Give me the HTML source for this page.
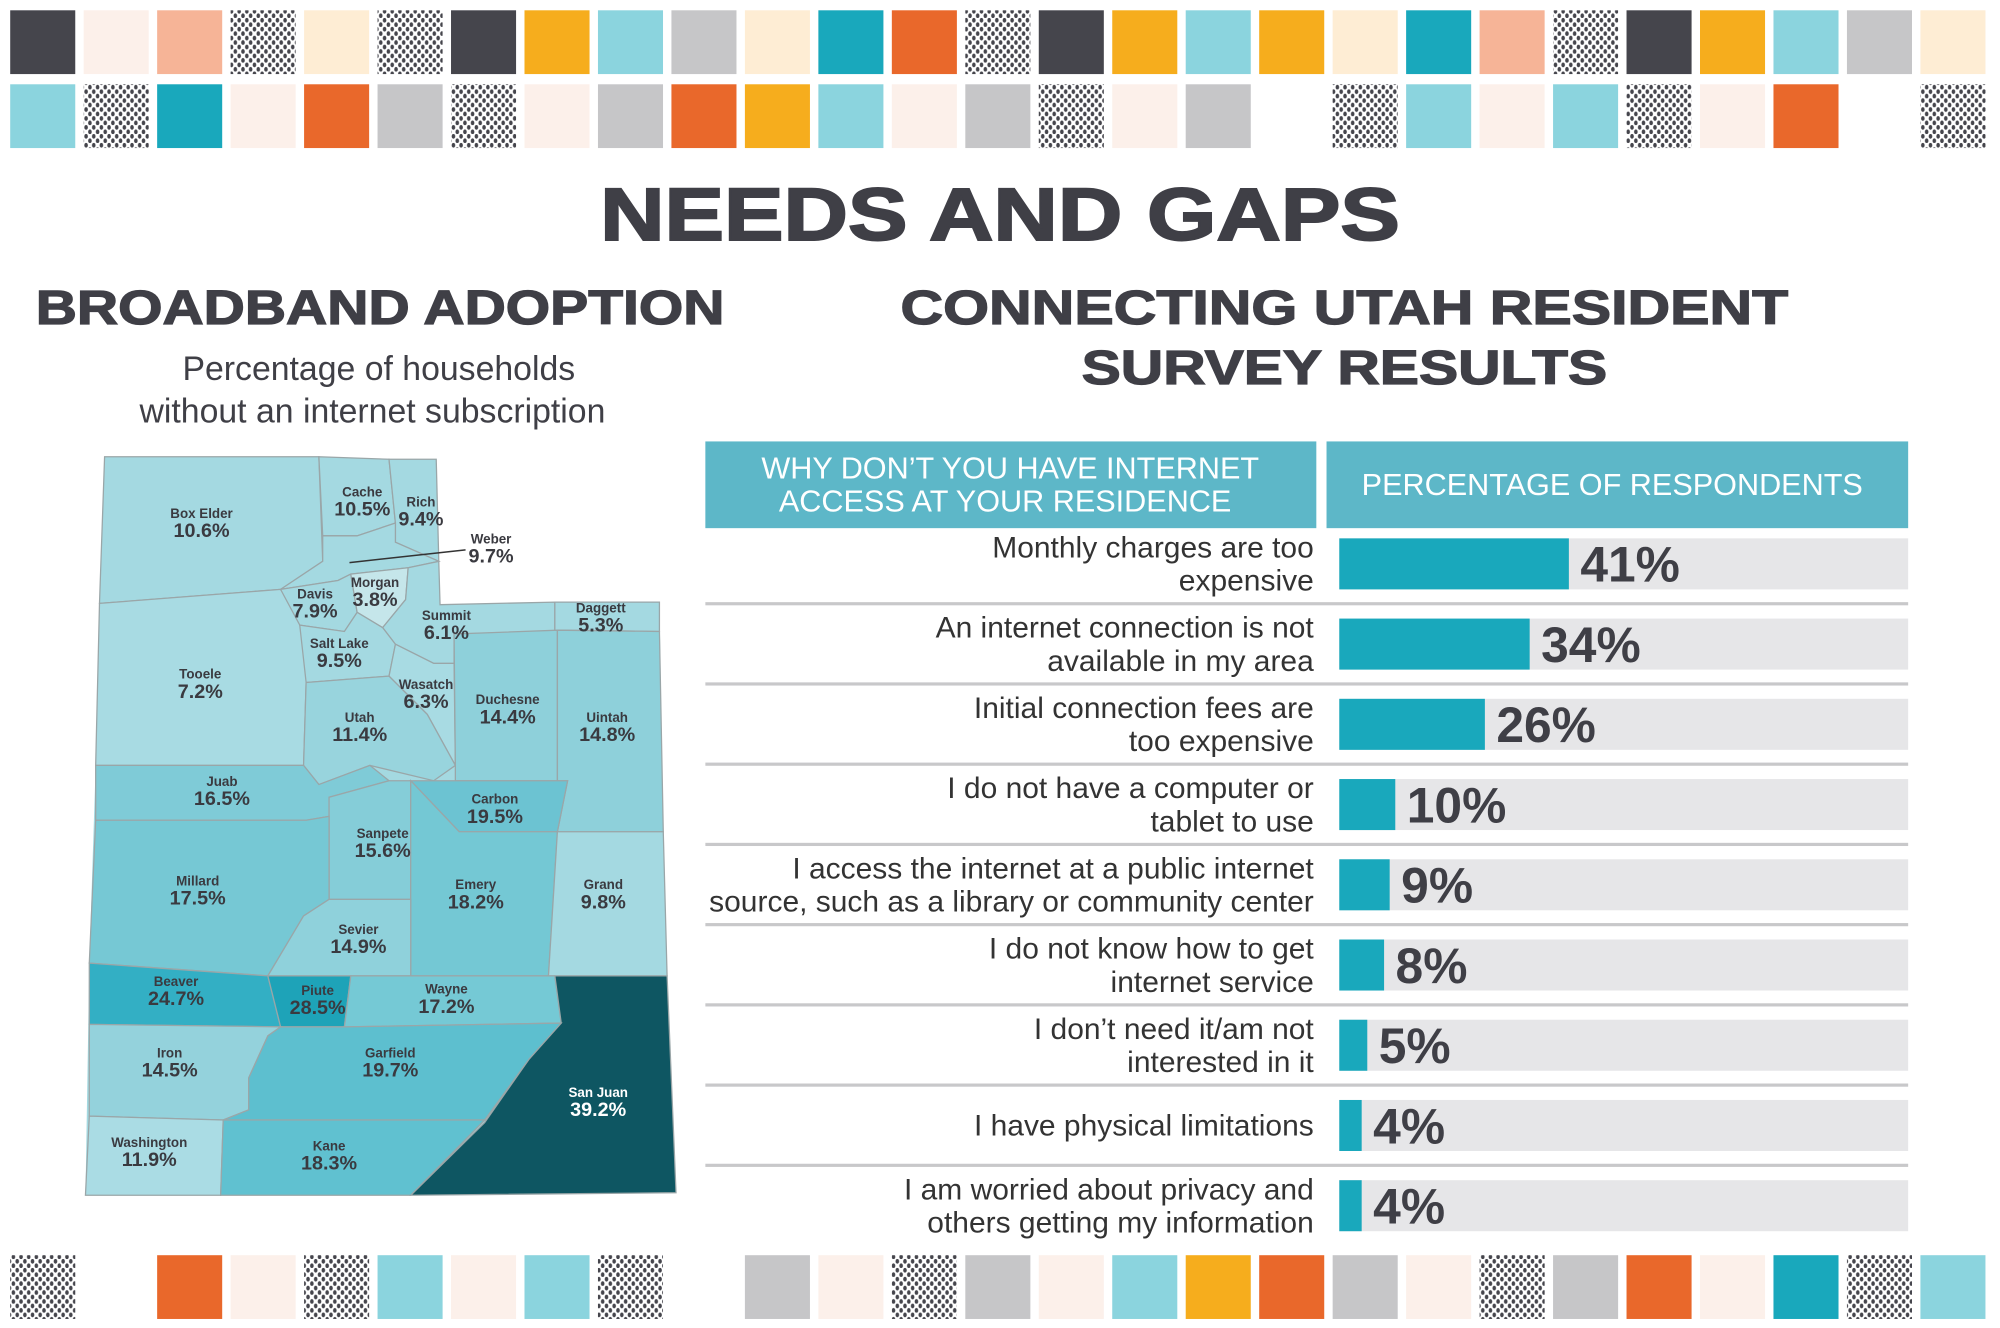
<!DOCTYPE html>
<html><head><meta charset="utf-8"><style>
html,body{margin:0;padding:0;background:#fff;}
svg{display:block;}
text{font-family:"Liberation Sans",sans-serif;}
</style></head><body>
<svg id="root" width="2000" height="1328" viewBox="0 0 1568 1041" xmlns="http://www.w3.org/2000/svg">
<defs>
<pattern id="dots" width="6" height="7" patternUnits="userSpaceOnUse">
<rect width="6" height="7" fill="#fff"/>
<ellipse cx="1.5" cy="1.8" rx="1.4" ry="1.9" fill="#45454c"/>
<ellipse cx="4.5" cy="5.3" rx="1.4" ry="1.9" fill="#45454c"/>
</pattern>
</defs>
<g id="tiles"></g>

<text x="784" y="188" text-anchor="middle" font-size="58" font-weight="900" fill="#3f3f46" textLength="627" lengthAdjust="spacingAndGlyphs" stroke="#3f3f46" stroke-width="1.5">NEEDS AND GAPS</text>
<text x="298" y="254" text-anchor="middle" font-size="38" font-weight="900" fill="#3f3f46" textLength="540" lengthAdjust="spacingAndGlyphs" stroke="#3f3f46" stroke-width="1">BROADBAND ADOPTION</text>
<text x="297" y="298" text-anchor="middle" font-size="26.5" fill="#3f3f46">Percentage of households</text>
<text x="292" y="331" text-anchor="middle" font-size="26.5" fill="#3f3f46">without an internet subscription</text>
<text x="1054" y="254" text-anchor="middle" font-size="38" font-weight="900" fill="#3f3f46" textLength="696" lengthAdjust="spacingAndGlyphs" stroke="#3f3f46" stroke-width="1">CONNECTING UTAH RESIDENT</text>
<text x="1054" y="301" text-anchor="middle" font-size="38" font-weight="900" fill="#3f3f46" textLength="412" lengthAdjust="spacingAndGlyphs" stroke="#3f3f46" stroke-width="1">SURVEY RESULTS</text>

<polygon points="82,358 342,360 345,474 517,472 520,652 523,765 530,935 67,937 70,755 75,600 78,473" fill="#a4d9e1"/>
<g id="map" stroke="#9aa6a8" stroke-width="1"></g>
<line x1="274" y1="441" x2="365" y2="431" stroke="#333" stroke-width="1.2"/>
<g id="maplabels"></g>

<rect x="553" y="346" width="479" height="68" fill="#5db7c8"/>
<text x="792" y="375" text-anchor="middle" font-size="24" fill="#fff">WHY DON’T YOU HAVE INTERNET</text>
<text x="788" y="401" text-anchor="middle" font-size="24" fill="#fff">ACCESS AT YOUR RESIDENCE</text>
<rect x="1040" y="346" width="456" height="68" fill="#5db7c8"/>
<text x="1264" y="388" text-anchor="middle" font-size="24" fill="#fff">PERCENTAGE OF RESPONDENTS</text>
<g id="bars"></g>
</svg>
<script>
const NS="http://www.w3.org/2000/svg";
function mk(tag,attrs,parent){const e=document.createElementNS(NS,tag);for(const k in attrs)e.setAttribute(k,attrs[k]);parent.appendChild(e);return e;}
const C={k:"#45454c",b:"#fcf0ea",s:"#f6b497",d:"url(#dots)",c:"#feedd4",y:"#f6ad1d",l:"#8bd4de",g:"#c6c6c8",t:"#19a8bc",o:"#e9682b",_:null};
const row1="kbsdcdkylgctodkylyctsdkylgc";
const row2="ldtbogdbgoylbgdbg_dlbldbo_d";
const row3="d_obdlbld_gbdgblyogbdgobtdl";
const tiles=document.getElementById('tiles');
[[row1,8],[row2,66],[row3,984]].forEach(([r,y])=>{
  [...r].forEach((ch,i)=>{ if(!C[ch])return;
    const t=mk('rect',{x:8+i*57.6,y:y,width:51,height:50,fill:C[ch]},tiles);
    
    
  });
});

const counties=[
 ["box-elder","#a4d9e1","82,358 250,358 253,440 220,462 78,473"],
 ["cache","#a4d9e1","250,358 305,360 310,410 280,420 253,420"],
 ["rich","#a4d9e1","305,360 342,360 344,440 310,425 310,410"],
 ["weber","#a4d9e1","253,420 280,420 310,410 310,425 344,440 320,445 275,450 265,455 220,462 253,440"],
 ["tooele","#a8dbe3","78,473 220,462 245,500 240,535 238,600 75,600"],
 ["davis","#a4d9e1","220,462 265,455 275,450 280,480 270,495 235,490"],
 ["morgan","#c5e6ea","275,450 320,445 318,470 300,492 280,480"],
 ["summit","#a4d9e1","320,445 344,440 345,474 435,472 435,495 356,497 356,520 340,520 310,505 300,492 318,470"],
 ["daggett","#a4d9e1","435,472 517,472 517,495 437,494 435,495"],
 ["salt-lake","#a4d9e1","235,490 270,495 280,480 300,492 310,505 305,530 240,535"],
 ["wasatch","#a8dbe3","310,505 340,520 356,520 357,600 335,560 305,530"],
 ["utah","#98d4dd","240,535 305,530 335,560 357,600 340,612 290,600 250,615 238,600"],
 ["duchesne","#8ed0da","356,497 437,494 437,612 357,612 357,600"],
 ["uintah","#8ed0da","437,494 517,495 520,652 437,652 445,612 437,612"],
 ["juab","#7fcbd7","75,600 238,600 250,615 290,600 305,612 258,625 258,640 240,643 75,643"],
 ["carbon","#6cc3d2","322,612 445,612 437,652 360,652"],
 ["sanpete","#85cdd8","258,625 305,612 322,612 322,705 258,705"],
 ["millard","#76c8d4","75,643 240,643 258,640 258,705 238,718 210,765 70,755"],
 ["emery","#74c8d4","322,612 360,652 437,652 430,765 322,765"],
 ["grand","#a4d9e1","437,652 520,652 523,765 430,765"],
 ["sevier","#8fd1db","258,705 322,705 322,765 210,765 238,718"],
 ["beaver","#33afc4","70,755 210,765 220,805 70,803"],
 ["piute","#1ea3b8","210,765 275,765 270,805 220,805"],
 ["wayne","#75c9d5","275,765 435,765 440,802 270,805"],
 ["san-juan","#0e5662","435,765 523,765 530,935 322,937 380,880 415,830 440,802"],
 ["iron","#94d2dc","70,803 220,805 210,812 195,845 195,870 175,878 70,875"],
 ["garfield","#5dbfcf","220,805 270,805 440,802 415,830 380,878 175,878 195,870 195,845 210,812"],
 ["washington","#aadce4","70,875 175,878 173,937 67,937"],
 ["kane","#60c1d0","175,878 380,878 322,937 173,937"]
];
const map=document.getElementById('map');
counties.forEach(([n,f,p])=>{const e=mk('polygon',{points:p,fill:f},map);
 
 });

const labels=[["Box Elder","10.6%",158,406],["Cache","10.5%",284,389],["Rich","9.4%",330,397],["Weber","9.7%",385,426],
["Davis","7.9%",247,469],["Morgan","3.8%",294,460],["Summit","6.1%",350,486],["Daggett","5.3%",471,480],
["Salt Lake","9.5%",266,508],["Tooele","7.2%",157,532],["Wasatch","6.3%",334,540],["Duchesne","14.4%",398,552],
["Utah","11.4%",282,566],["Uintah","14.8%",476,566],["Juab","16.5%",174,616],["Carbon","19.5%",388,630],
["Sanpete","15.6%",300,657],["Millard","17.5%",155,694],["Emery","18.2%",373,697],["Grand","9.8%",473,697],
["Sevier","14.9%",281,732],["Beaver","24.7%",138,773],["Piute","28.5%",249,780],["Wayne","17.2%",350,779],
["Iron","14.5%",133,829],["Garfield","19.7%",306,829],["San Juan","39.2%",469,860],["Washington","11.9%",117,899],["Kane","18.3%",258,902]];
const ml=document.getElementById('maplabels');
labels.forEach(([n,v,x,y])=>{
 const col=n==="San Juan"?"#fff":"#3a3a40";
 const a=mk('text',{x:x,y:y,'text-anchor':'middle','font-size':10.5,'font-weight':'bold',fill:col},ml);a.textContent=n;
 
 
 const b=mk('text',{x:x,y:y+15,'text-anchor':'middle','font-size':15.5,'font-weight':'bold',fill:col},ml);b.textContent=v;
 
 
});

const reasonsLine1=["Monthly charges are too","An internet connection is not","Initial connection fees are","I do not have a computer or","I access the internet at a public internet","I do not know how to get","I don’t need it/am not","I have physical limitations","I am worried about privacy and"];
const reasonsLine2=["expensive","available in my area","too expensive","tablet to use","source, such as a library or community center","internet service","interested in it","","others getting my information"];
const percents=[41,34,26,10,9,8,5,4,4];
const x0=1050,pxPer=4.39,rowTop=422,rowH=62.9;
const xs=v=>x0+v*pxPer;
const bars=document.getElementById('bars');
percents.forEach((v,i)=>{
 const cy=rowTop+20+i*rowH;
 const bg=mk('rect',{x:x0,y:cy-20,width:446,height:40,fill:"#e6e6e8"},bars);
 
 
 const b=mk('rect',{x:x0,y:cy-20,width:xs(v)-x0,height:40,fill:"#19a8bc"},bars);
 
 
 const t=mk('text',{x:xs(v)+9,y:cy+14,'font-size':39,'font-weight':'bold',fill:"#3f3f46"},bars);t.textContent=v+"%";
 
 
 const single=reasonsLine2[i]==="";
 const l1=mk('text',{x:1030,y:single?cy+8:cy-5,'text-anchor':'end','font-size':23.5,fill:"#333"},bars);l1.textContent=reasonsLine1[i];
 
 
 if(!single){const l2=mk('text',{x:1030,y:cy+21,'text-anchor':'end','font-size':23.5,fill:"#333"},bars);l2.textContent=reasonsLine2[i];
 
 }
 if(i<percents.length-1){const s=mk('rect',{x:553,y:cy+30,width:943,height:2.5,fill:"#c8c8ca"},bars);
 
 }
});
</script>
</body></html>
